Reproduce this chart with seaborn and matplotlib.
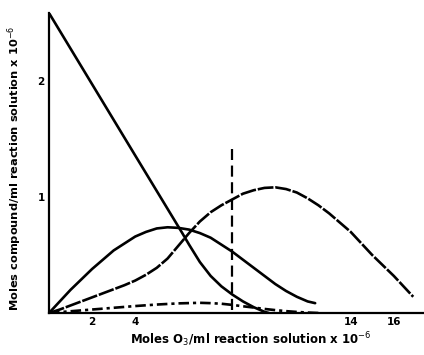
import numpy as np
import pandas as pd
import matplotlib
matplotlib.use("Agg")
import matplotlib.pyplot as plt
import seaborn as sns

# Data (x: moles O3/ml x1e-6, y: moles compound/ml x1e-6)
a_x = [0, 2, 4, 6.2, 6.5, 7.0, 7.5, 8.0, 8.5, 9.0, 9.5, 10.0, 10.2]
a_y = [2.59, 1.975, 1.36, 0.685, 0.59, 0.44, 0.32, 0.23, 0.16, 0.10, 0.05, 0.01, 0.0]

b_x = [0, 0.5, 1, 1.5, 2, 2.5, 3, 3.5, 4, 4.5, 5, 5.5, 6, 6.5, 7, 7.5, 8, 8.5,
       9, 9.5, 10, 10.5, 11, 11.5, 12, 12.35]
b_y = [0, 0.10, 0.20, 0.29, 0.38, 0.46, 0.54, 0.60, 0.66, 0.70, 0.73, 0.74, 0.735,
       0.72, 0.69, 0.65, 0.59, 0.53, 0.46, 0.39, 0.32, 0.25, 0.19, 0.14, 0.10, 0.085]

c_x = [0, 0.5, 1, 1.5, 2, 2.5, 3, 3.5, 4, 4.5, 5, 5.5, 6, 6.5, 7, 7.5, 8, 8.5, 9,
       9.5, 10, 10.5, 11, 11.5, 12, 12.5, 13, 13.5, 14, 14.5, 15, 15.5, 16, 16.5, 16.9]
c_y = [0, 0.03, 0.065, 0.10, 0.135, 0.17, 0.205, 0.24, 0.28, 0.33, 0.39, 0.47, 0.58,
       0.69, 0.79, 0.87, 0.93, 0.98, 1.03, 1.06, 1.08, 1.085, 1.07, 1.04, 0.99, 0.93,
       0.86, 0.78, 0.70, 0.60, 0.50, 0.41, 0.32, 0.22, 0.14]

d_x = [0, 1, 2, 3, 4, 5, 6, 7, 7.5, 8, 8.5, 9, 9.5, 10, 10.5, 11, 11.5, 12, 12.5]
d_y = [0, 0.015, 0.03, 0.045, 0.06, 0.073, 0.083, 0.088, 0.085, 0.08, 0.07, 0.058,
       0.047, 0.035, 0.025, 0.016, 0.009, 0.004, 0.0]

marker_x = 8.5
marker_y = [0.03, 1.42]

x_ticks = [2, 4, 14, 16]
x_minor = [6, 8, 10, 12]
y_ticks = [1, 2]

sns.set_style("white")
plt.rcParams['font.family'] = ['DejaVu Sans']
plt.rcParams['text.color'] = 'black'

fig = plt.figure(figsize=(4.24, 3.55), dpi=100)
ax = fig.add_axes([49/424, 42/355, 1 - 49/424, 300/355])

lw = 1.9
sns.lineplot(x=a_x, y=a_y, ax=ax, color="black", lw=lw, estimator=None, sort=False)
sns.lineplot(x=b_x, y=b_y, ax=ax, color="black", lw=lw, estimator=None, sort=False)
sns.lineplot(x=c_x, y=c_y, ax=ax, color="black", lw=lw, estimator=None, sort=False).lines[-1].set_dashes([6, 0.7])
sns.lineplot(x=d_x, y=d_y, ax=ax, color="black", lw=lw, estimator=None, sort=False).lines[-1].set_dashes([4, 1.5, 1.2, 1.5])
sns.lineplot(x=[marker_x, marker_x], y=marker_y, ax=ax, color="black", lw=1.6,
             estimator=None, sort=False).lines[-1].set_dashes([5, 2.5])

for ln in ax.lines:
    ln.set_solid_capstyle("round")
    ln.set_solid_joinstyle("round")
    ln.set_dash_joinstyle("round")

ax.set_xlim(0, 17.4)
ax.set_ylim(0, 2.59)
for s in ["top", "right"]:
    ax.spines[s].set_visible(False)
for s in ["left", "bottom"]:
    ax.spines[s].set_color("black")
    ax.spines[s].set_linewidth(1.6)

ax.set_xticks(x_ticks)
ax.set_xticklabels([str(t) for t in x_ticks], fontsize=7.5, fontweight="bold", color="black")
ax.set_xticks(x_minor, minor=True)
ax.set_yticks(y_ticks)
ax.set_yticklabels([str(t) for t in y_ticks], fontsize=7.5, fontweight="bold", color="black")
ax.tick_params(axis="both", which="major", direction="in", length=5, width=1.2, colors="black", pad=3)
ax.tick_params(axis="x", which="minor", direction="in", length=3, width=1, colors="black")
ax.set_xlabel("")
ax.set_ylabel("")

fig.text(251/424, 1 - 340/355, "Moles O$_3$/ml reaction solution x 10$^{-6}$",
         ha="center", va="center", fontsize=8.5, fontweight="bold", color="black")
fig.text(15/424, 1 - 168/355, "Moles compound/ml reaction solution x 10$^{-6}$",
         ha="center", va="center", rotation=90, fontsize=8.2, fontweight="bold", color="black")

fig.savefig("out.png", dpi=100, facecolor="white")
